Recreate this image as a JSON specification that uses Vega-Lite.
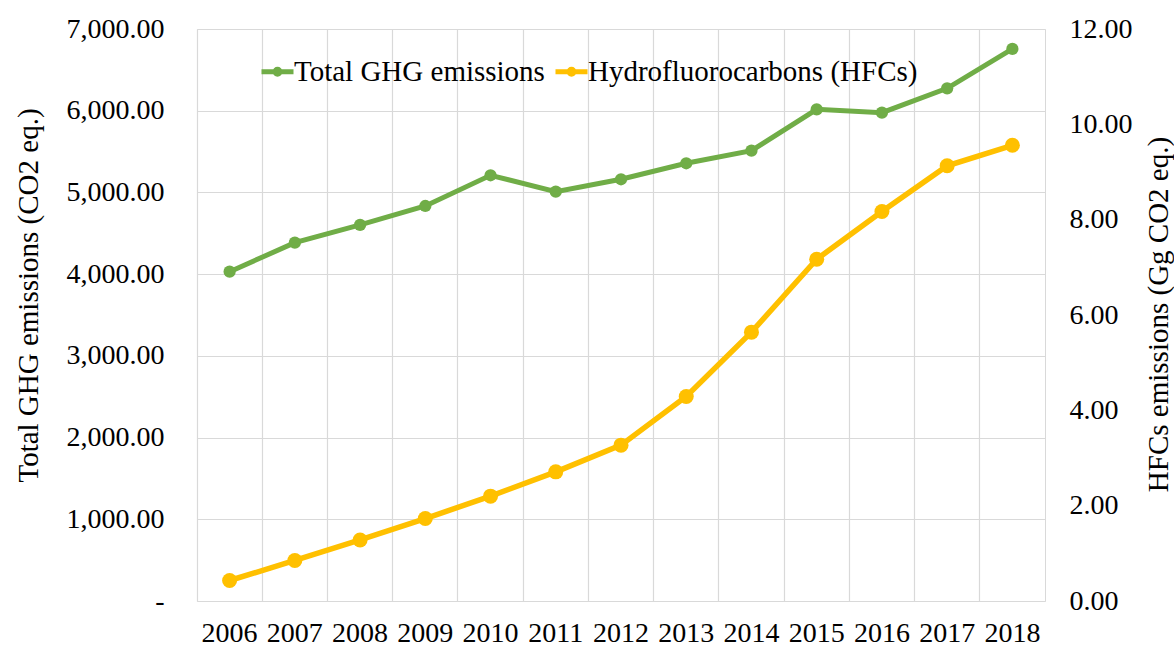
{
  "$schema": "https://vega.github.io/schema/vega-lite/v6.json",
  "width": 848,
  "height": 572,
  "autosize": {"type": "none"},
  "padding": {"left": 197, "top": 29, "right": 129, "bottom": 45},
  "background": "white",
  "config": {
    "view": {"stroke": "#D9D9D9", "strokeWidth": 1},
    "font": "Liberation Serif",
    "axis": {
      "labelFont": "Liberation Serif",
      "labelFontSize": 28,
      "labelColor": "#000000",
      "titleFont": "Liberation Serif",
      "titleFontSize": 29,
      "titleFontWeight": "normal",
      "titleColor": "#000000",
      "gridColor": "#D9D9D9",
      "gridWidth": 1.2,
      "domain": false,
      "ticks": false,
      "tickSize": 0
    }
  },
  "data": {
    "values": [
      {"year": "2006", "ghg": 4030, "hfc": 0.43},
      {"year": "2007", "ghg": 4385, "hfc": 0.85},
      {"year": "2008", "ghg": 4602, "hfc": 1.28},
      {"year": "2009", "ghg": 4834, "hfc": 1.73},
      {"year": "2010", "ghg": 5210, "hfc": 2.20},
      {"year": "2011", "ghg": 5009, "hfc": 2.71},
      {"year": "2012", "ghg": 5161, "hfc": 3.27},
      {"year": "2013", "ghg": 5357, "hfc": 4.29},
      {"year": "2014", "ghg": 5511, "hfc": 5.64},
      {"year": "2015", "ghg": 6017, "hfc": 7.17},
      {"year": "2016", "ghg": 5976, "hfc": 8.17},
      {"year": "2017", "ghg": 6274, "hfc": 9.13},
      {"year": "2018", "ghg": 6756, "hfc": 9.56}
    ]
  },
  "encoding": {
    "x": {
      "field": "year",
      "type": "ordinal",
      "scale": {"type": "band", "paddingInner": 0, "paddingOuter": 0},
      "axis": {
        "title": null,
        "bandPosition": 0,
        "labelAngle": 0,
        "labelPadding": 18,
        "grid": true
      }
    }
  },
  "layer": [
    {
      "mark": {"type": "line", "strokeWidth": 5, "point": {"filled": true, "size": 150, "opacity": 1}},
      "encoding": {
        "y": {
          "field": "ghg",
          "type": "quantitative",
          "scale": {"domain": [0, 7000]},
          "axis": {
            "title": "Total GHG emissions (CO2 eq.)",
            "values": [0, 1000, 2000, 3000, 4000, 5000, 6000, 7000],
            "labelExpr": "datum.value == 0 ? '-\u00a0\u00a0' : format(datum.value, ',.2f')",
            "grid": true,
            "labelPadding": 33,
            "titleX": -169,
            "titleY": 266,
            "titleAngle": 270,
            "titleBaseline": "middle"
          }
        },
        "color": {
          "datum": "Total GHG emissions",
          "scale": {"domain": ["Total GHG emissions", "Hydrofluorocarbons (HFCs)"], "range": ["#70AD47", "#FFC000"]},
          "legend": {
            "title": null,
            "orient": "none",
            "legendX": 62,
            "legendY": 24,
            "direction": "horizontal",
            "symbolType": "M-1,0L1,0M0.15,0A0.15,0.15 0 1 1 -0.15,0A0.15,0.15 0 1 1 0.15,0",
            "symbolSize": 1024,
            "symbolStrokeWidth": 5,
            "labelFont": "Liberation Serif",
            "labelFontSize": 29,
            "labelColor": "#000000",
            "labelOffset": -2,
            "labelLimit": 0,
            "columnPadding": 0,
            "padding": 0
          }
        }
      }
    },
    {
      "mark": {"type": "line", "strokeWidth": 5.5, "point": {"filled": true, "size": 225, "opacity": 1}},
      "encoding": {
        "y": {
          "field": "hfc",
          "type": "quantitative",
          "scale": {"domain": [0, 12]},
          "axis": {
            "orient": "right",
            "title": "HFCs emissions (Gg CO2 eq.)",
            "values": [0, 2, 4, 6, 8, 10, 12],
            "format": ".2f",
            "grid": false,
            "labelPadding": 24,
            "titleX": 113,
            "titleY": 285,
            "titleAngle": 270,
            "titleBaseline": "middle"
          }
        },
        "color": {"datum": "Hydrofluorocarbons (HFCs)"}
      }
    }
  ],
  "resolve": {"scale": {"y": "independent"}}
}
